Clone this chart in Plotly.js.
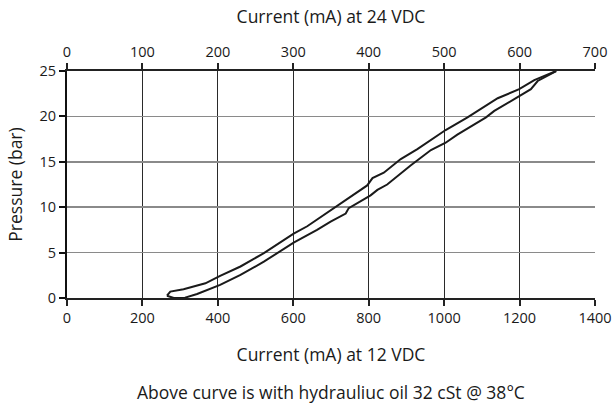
<!DOCTYPE html>
<html>
<head>
<meta charset="utf-8">
<script src="https://cdn.plot.ly/plotly-3.0.1.min.js"></script>
<style>html,body{margin:0;padding:0;background:#fff;}#chart{width:615px;height:407px;}</style>
</head>
<body>
<div id="chart"></div>
<script>
// Hysteresis loop, current at 12 VDC (mA) vs pressure (bar)
const upperCurrent = [265, 274, 309, 367, 406, 460, 522, 601, 637, 708, 796, 810, 840, 885, 929, 1004, 1062, 1142, 1199, 1239, 1297];
const upperPressure = [0.25, 0.7, 0.96, 1.62, 2.43, 3.47, 4.94, 7.08, 7.9, 9.9, 12.4, 13.2, 13.8, 15.3, 16.4, 18.5, 19.9, 22.0, 23.0, 24.0, 25.0];
const lowerCurrent = [265, 283, 313, 345, 406, 460, 522, 601, 663, 699, 739, 747, 805, 823, 849, 911, 965, 1004, 1035, 1111, 1133, 1204, 1230, 1248, 1297];
const lowerPressure = [0.25, 0.0, 0.04, 0.44, 1.44, 2.54, 4.0, 6.1, 7.5, 8.4, 9.3, 9.9, 11.3, 11.9, 12.5, 14.6, 16.3, 17.1, 18.0, 19.9, 20.6, 22.3, 23.0, 23.9, 25.0];
const bottomTicks = [0, 200, 400, 600, 800, 1000, 1200, 1400];
const topTicks = [0, 100, 200, 300, 400, 500, 600, 700];
const yTicks = [0, 5, 10, 15, 20, 25];

const FONT = "Open Sans, Noto Sans, sans-serif";
const lineStyle = {color: '#1a1a1a', width: 2};
const TITLE_SIZE = 17.5;

const traces = [
  {x: upperCurrent, y: upperPressure, type: 'scatter', mode: 'lines', line: lineStyle, showlegend: false, hoverinfo: 'skip'},
  {x: lowerCurrent, y: lowerPressure, type: 'scatter', mode: 'lines', line: lineStyle, showlegend: false, hoverinfo: 'skip'},
  {x: [0, 700], y: [null, null], xaxis: 'x2', yaxis: 'y', type: 'scatter', mode: 'lines', showlegend: false, hoverinfo: 'skip'}
];

const layout = {
  width: 615, height: 407,
  margin: {l: 67, r: 20, t: 71, b: 109},
  paper_bgcolor: '#fff', plot_bgcolor: '#fff',
  font: {family: FONT, size: 14.5, color: '#1a1a1a'},
  xaxis: {
    range: [0, 1400], tickvals: bottomTicks, ticktext: bottomTicks.map(String),
    showline: true, linecolor: '#222', linewidth: 2,
    ticks: 'outside', ticklen: 6, tickwidth: 2, tickcolor: '#222',
    showgrid: true, gridcolor: '#2a2a2a', gridwidth: 1, zeroline: false,
    title: {text: 'Current (mA) at 12 VDC', font: {size: TITLE_SIZE}, standoff: 22},
    fixedrange: true
  },
  xaxis2: {
    range: [0, 700], tickvals: topTicks, ticktext: topTicks.map(String),
    overlaying: 'x', side: 'top', anchor: 'y',
    showline: true, linecolor: '#222', linewidth: 2,
    ticks: 'outside', ticklen: 6, tickwidth: 2, tickcolor: '#222',
    showgrid: false, zeroline: false,
    title: {text: 'Current (mA) at 24 VDC', font: {size: TITLE_SIZE}, standoff: 14},
    fixedrange: true
  },
  yaxis: {
    range: [0, 25], tickvals: yTicks, ticktext: yTicks.map(String),
    showline: true, linecolor: '#111', linewidth: 2,
    ticks: 'outside', ticklen: 6, tickwidth: 2, tickcolor: '#111',
    showgrid: true, gridcolor: '#8a8a8a', gridwidth: 1.5, zeroline: false,
    title: {text: 'Pressure (bar)', font: {size: TITLE_SIZE}, standoff: 12},
    fixedrange: true
  },
  annotations: [{
    text: 'Above curve is with hydrauliuc oil 32 cSt @ 38°C',
    xref: 'paper', yref: 'paper', x: 0.5, y: -0.415, yanchor: 'middle', xanchor: 'center',
    showarrow: false, font: {size: TITLE_SIZE, family: FONT, color: '#1a1a1a'}
  }]
};

Plotly.newPlot('chart', traces, layout, {displayModeBar: false, staticPlot: true});
</script>
</body>
</html>
